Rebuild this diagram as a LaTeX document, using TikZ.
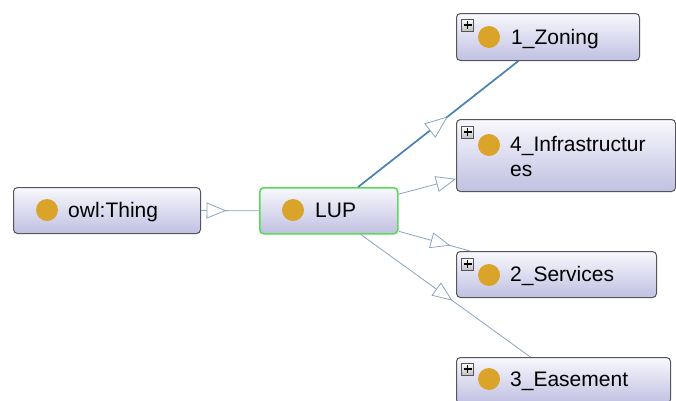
\documentclass[tikz,border=0pt]{standalone}
\usepackage{fontspec}
\setmainfont{Liberation Sans}
\usetikzlibrary{arrows.meta,decorations.markings,calc,shadings}
\definecolor{boxtop}{RGB}{248,248,253}
\definecolor{boxbot}{RGB}{192,192,226}
\definecolor{boxline}{RGB}{85,85,90}
\definecolor{dotc}{RGB}{218,164,42}
\definecolor{edgec}{RGB}{140,164,190}
\definecolor{edgesel}{RGB}{72,128,180}
\definecolor{selgreen}{RGB}{88,220,88}
\begin{document}
\begin{tikzpicture}[x=1pt,y=-1pt,
  cls/.style={draw=boxline, line width=1pt, rounded corners=4pt, top color=boxtop, bottom color=boxbot, inner sep=0pt, anchor=north west},
  dotn/.style={circle, fill=dotc, minimum size=22pt, inner sep=0pt},
  lbl/.style={anchor=base west, inner sep=0pt, font=\fontsize{21}{26}\selectfont},
  plusbox/.style={draw=boxline, line width=0.8pt, minimum width=12pt, minimum height=12pt, inner sep=0pt, top color=white, bottom color=black!25,
    path picture={\draw[black, line width=1.7pt] ($(path picture bounding box.center)+(-4,0)$) -- ($(path picture bounding box.center)+(4,0)$);
                  \draw[black, line width=1.7pt] ($(path picture bounding box.center)+(0,-4)$) -- ($(path picture bounding box.center)+(0,4)$);}},
  isa/.style={color=edgec, line width=0.8pt},
  sel/.style={color=edgesel, line width=1.7pt},
  midarr/.style={postaction={decorate}, decoration={markings, mark=at position #1 with {\arrow{Triangle[length=20pt,width=16pt,fill=white,line width=0.8pt]}}}},
  midarrbig/.style={postaction={decorate}, decoration={markings, mark=at position #1 with {\arrow[edgec]{Triangle[length=23pt,width=18pt,fill=white,line width=0.8pt]}}}}
]
\useasboundingbox (0,0) rectangle (676,400);

% class boxes
\node[cls, minimum width=187pt, minimum height=46pt] (thing) at (13,187) {};
\node[cls, draw=selgreen, line width=1.6pt, minimum width=138pt, minimum height=46pt] (lup) at (259,187) {};
\node[cls, minimum width=183pt, minimum height=47pt] (zoning) at (456,13) {};
\node[cls, minimum width=219pt, minimum height=72pt] (infra) at (456,119) {};
\node[cls, minimum width=200pt, minimum height=46pt] (services) at (456,251) {};
\node[cls, minimum width=214pt, minimum height=46pt] (easement) at (456,357) {};

% dots
\node[dotn] (dthing) at (47,210) {};
\node[dotn] (dlup) at (293,210) {};
\node[dotn] (dzoning) at (489,37) {};
\node[dotn] (dinfra) at (489,145) {};
\node[dotn] (dservices) at (489,275) {};
\node[dotn] (deasement) at (489,379) {};

% expand icons
\node[plusbox] (pzoning) at (467.5,25) {};
\node[plusbox] (pinfra) at (467.5,132) {};
\node[plusbox] (pservices) at (467.5,264) {};
\node[plusbox] (peasement) at (467.5,369) {};

% labels
\node[lbl] (tthing) at (68,217.5) {owl:Thing};
\node[lbl] (tlup) at (315,217) {LUP};
\node[lbl] (tzoning) at (511,44.5) {1\_Zoning};
\node[lbl] (tinfra) at (510,151) {4\_Infrastructur};
\node[lbl] (tinfrab) at (510,176.5) {es};
\node[lbl] (tservices) at (510,281) {2\_Services};
\node[lbl] (teasement) at (510,386) {3\_Easement};

% connectors
\draw[isa, midarr=0.44] (thing.east) -- (lup.west);
\draw[sel, midarrbig=0.56] ($(lup.north west)!0.71!(lup.north east)$) -- ($(zoning.south west)!0.339!(zoning.south east)$);
\draw[isa, -{Triangle[length=20pt,width=16pt,fill=white,line width=0.8pt]}] ($(lup.north east)!0.15!(lup.south east)$) -- ($(infra.north west)!0.82!(infra.south west)$);
\draw[isa, midarr=0.726] ($(lup.north east)!0.93!(lup.south east)$) -- ($(services.north west)!0.07!(services.north east)$);
\draw[isa, midarr=0.54] ($(lup.south west)!0.73!(lup.south east)$) -- ($(easement.north west)!0.346!(easement.north east)$);
\end{tikzpicture}
\end{document}
